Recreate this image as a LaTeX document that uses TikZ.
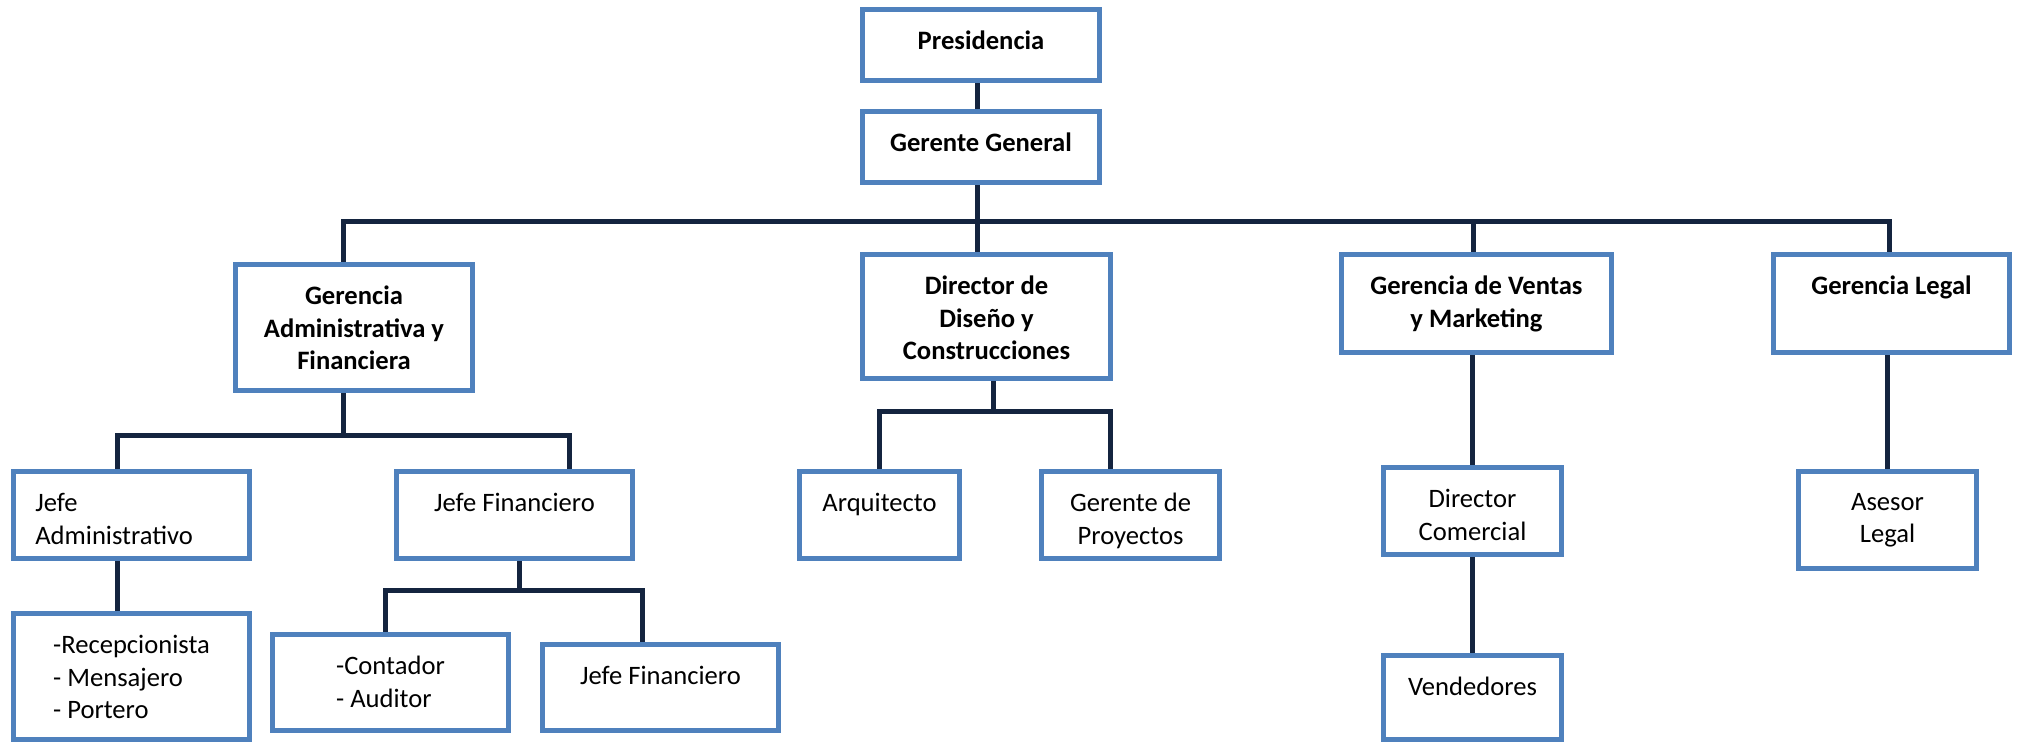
\documentclass[tikz,border=0pt]{standalone}
\usepackage{fontspec}
\setmainfont{Carlito}
\usetikzlibrary{positioning,calc}
\definecolor{boxblue}{HTML}{4F81BD}
\definecolor{linknavy}{HTML}{14243F}

\begin{document}
\begin{tikzpicture}[x=0.5pt,y=-0.5pt,
  cargo/.style={draw=boxblue,line width=2.6pt,inner sep=0pt,fill=white},
  titulo/.style={anchor=north,align=center,inner sep=0pt,font=\fontsize{13.3}{16.25}\selectfont},
  negrita/.style={titulo,font=\fontsize{13.3}{16.25}\selectfont\bfseries},
  link/.style={draw=linknavy,line width=2.5pt}]
\useasboundingbox (0,0) rectangle (2017,742);

% direccion
\node[cargo,minimum width=118.5pt,minimum height=35.5pt] (pres) at (981,45) {};
\node[negrita] (pres-t) at ([yshift=-12pt]pres.north) {Presidencia};
\node[cargo,minimum width=118.5pt,minimum height=35.5pt] (gg) at (981,147) {};
\node[negrita] (gg-t) at ([yshift=-12pt]gg.north) {Gerente General};

% gerencias
\node[cargo,minimum width=118.5pt,minimum height=63pt] (gaf) at (354,327.5) {};
\node[negrita] (gaf-t) at ([yshift=-12pt]gaf.north) {Gerencia\\Administrativa y\\Financiera};
\node[cargo,minimum width=124pt,minimum height=62pt] (dd) at (986.5,316.5) {};
\node[negrita] (dd-t) at ([yshift=-12pt]dd.north) {Director de\\Diseño y\\Construcciones};
\node[cargo,minimum width=135pt,minimum height=49pt] (gv) at (1476.5,303.5) {};
\node[negrita] (gv-t) at ([yshift=-12pt]gv.north) {Gerencia de Ventas\\y Marketing};
\node[cargo,minimum width=118pt,minimum height=49pt] (gl) at (1891.5,303.5) {};
\node[negrita] (gl-t) at ([yshift=-12pt]gl.north) {Gerencia Legal};

% jefaturas
\node[cargo,minimum width=118pt,minimum height=43.5pt] (ja) at (131.5,515) {};
\node[titulo,anchor=north west,align=left] (ja-t) at ([xshift=12pt,yshift=-12pt]ja.north west) {Jefe\\Administrativo};
\node[cargo,minimum width=118pt,minimum height=43.5pt] (jf) at (514.5,515) {};
\node[titulo] (jf-t) at ([yshift=-12pt]jf.north) {Jefe Financiero};
\node[cargo,minimum width=80pt,minimum height=43.5pt] (arq) at (879.5,515) {};
\node[titulo] (arq-t) at ([yshift=-12pt]arq.north) {Arquitecto};
\node[cargo,minimum width=89pt,minimum height=43.5pt] (gp) at (1130.5,515) {};
\node[titulo] (gp-t) at ([yshift=-12pt]gp.north) {Gerente de\\Proyectos};
\node[cargo,minimum width=89pt,minimum height=43.5pt] (dc) at (1472.5,511) {};
\node[titulo] (dc-t) at ([yshift=-12pt]dc.north) {Director\\Comercial};
\node[cargo,minimum width=89pt,minimum height=48.5pt] (al) at (1887.5,520) {};
\node[titulo] (al-t) at ([yshift=-12pt]al.north) {Asesor\\Legal};

% personal
\node[cargo,minimum width=118pt,minimum height=63pt] (rec) at (131.5,676.5) {};
\node[titulo,align=left] (rec-t) at ([yshift=-12pt]rec.north) {-Recepcionista\\- Mensajero\\- Portero};
\node[cargo,minimum width=118pt,minimum height=48pt] (cont) at (390.5,682.5) {};
\node[titulo,align=left] (cont-t) at ([yshift=-12pt]cont.north) {-Contador\\- Auditor};
\node[cargo,minimum width=118pt,minimum height=43pt] (jf2) at (660.5,687.5) {};
\node[titulo] (jf2-t) at ([yshift=-12pt]jf2.north) {Jefe Financiero};
\node[cargo,minimum width=89pt,minimum height=42pt] (ven) at (1472.5,697.5) {};
\node[titulo] (ven-t) at ([yshift=-12pt]ven.north) {Vendedores};

% lineas de mando
\coordinate (trunk) at (977,222);
\draw[link] ([xshift=-2pt]pres.south) -- ([xshift=-2pt]gg.north);
\draw[link] ([xshift=-2pt]gg.south) -- (trunk) -- ([xshift=-4.75pt]dd.north);
\draw[link] ([xshift=-5.5pt]gaf.north) |- ([xshift=-1.25pt]gl.north |- trunk) -- ([xshift=-1.25pt]gl.north);
\draw[link] ([xshift=-1.75pt]gv.north) -- ([xshift=-1.75pt]gv.north |- trunk);

\coordinate (adm) at (343,436);
\draw[link] ([xshift=-5.5pt]gaf.south) -- (adm);
\draw[link] ([xshift=-7.25pt]ja.north) |- ([xshift=27.25pt]jf.north |- adm) -- ([xshift=27.25pt]jf.north);
\draw[link] ([xshift=-7.25pt]ja.south) -- ([xshift=-7.25pt]rec.north);

\coordinate (fin) at (519,590);
\draw[link] ([xshift=2.25pt]jf.south) -- (fin);
\draw[link] ([xshift=-2.75pt]cont.north) |- ([xshift=-9.25pt]jf2.north |- fin) -- ([xshift=-9.25pt]jf2.north);

\coordinate (dis) at (993,412);
\draw[link] ([xshift=3.25pt]dd.south) -- (dis);
\draw[link] (arq.north) |- ([xshift=-10.25pt]gp.north |- dis) -- ([xshift=-10.25pt]gp.north);

\draw[link] (gv.south -| dc.north) -- (dc.north);
\draw[link] (dc) -- (ven);
\draw[link] (gl.south -| al.north) -- (al.north);
\end{tikzpicture}
\end{document}
